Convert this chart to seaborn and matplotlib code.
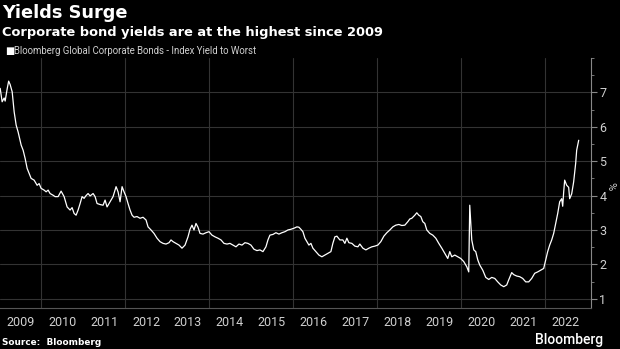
import numpy as np
import pandas as pd
import matplotlib
matplotlib.use("Agg")
import matplotlib.pyplot as plt
import seaborn as sns
from matplotlib.ticker import MultipleLocator, FixedLocator, NullFormatter, FixedFormatter

# ---- data (decimal years, yield %) ----
dates = [
    2009.024, 2009.071, 2009.119, 2009.143, 2009.190, 2009.226, 2009.262, 2009.310, 2009.357, 2009.405,
    2009.452, 2009.524, 2009.571, 2009.619, 2009.667, 2009.714, 2009.762, 2009.833, 2009.905, 2009.952,
    2010.000, 2010.071, 2010.119, 2010.167, 2010.214, 2010.286, 2010.333, 2010.405, 2010.476, 2010.548,
    2010.619, 2010.690, 2010.738, 2010.786, 2010.833, 2010.881, 2010.929, 2010.976, 2011.024, 2011.071,
    2011.119, 2011.167, 2011.238, 2011.286, 2011.333, 2011.405, 2011.476, 2011.524, 2011.571, 2011.643,
    2011.714, 2011.786, 2011.833, 2011.881, 2011.929, 2011.976, 2012.024, 2012.071, 2012.119, 2012.167,
    2012.214, 2012.286, 2012.357, 2012.429, 2012.500, 2012.548, 2012.619, 2012.690, 2012.762, 2012.833,
    2012.905, 2012.976, 2013.048, 2013.095, 2013.143, 2013.214, 2013.286, 2013.357, 2013.429, 2013.500,
    2013.548, 2013.595, 2013.643, 2013.690, 2013.738, 2013.786, 2013.857, 2013.929, 2014.000, 2014.071,
    2014.143, 2014.214, 2014.286, 2014.357, 2014.429, 2014.500, 2014.571, 2014.643, 2014.714, 2014.786,
    2014.857, 2014.929, 2015.000, 2015.071, 2015.143, 2015.214, 2015.286, 2015.357, 2015.405, 2015.452,
    2015.524, 2015.595, 2015.667, 2015.738, 2015.810, 2015.881, 2015.952, 2016.024, 2016.095, 2016.143,
    2016.190, 2016.238, 2016.286, 2016.333, 2016.381, 2016.429, 2016.476, 2016.548, 2016.619, 2016.690,
    2016.762, 2016.833, 2016.905, 2016.952, 2017.000, 2017.048, 2017.119, 2017.190, 2017.238, 2017.286,
    2017.333, 2017.405, 2017.476, 2017.548, 2017.595, 2017.667, 2017.738, 2017.810, 2017.881, 2017.952,
    2018.024, 2018.095, 2018.167, 2018.238, 2018.310, 2018.381, 2018.452, 2018.524, 2018.595, 2018.667,
    2018.738, 2018.786, 2018.833, 2018.905, 2018.952, 2019.000, 2019.048, 2019.095, 2019.143, 2019.190,
    2019.262, 2019.333, 2019.405, 2019.476, 2019.548, 2019.619, 2019.690, 2019.738, 2019.786, 2019.857,
    2019.929, 2020.000, 2020.071, 2020.143, 2020.190, 2020.214, 2020.238, 2020.262, 2020.310, 2020.357,
    2020.405, 2020.452, 2020.524, 2020.595, 2020.667, 2020.738, 2020.810, 2020.881, 2020.952, 2021.024,
    2021.095, 2021.143, 2021.214, 2021.262, 2021.333, 2021.405, 2021.476, 2021.548, 2021.619, 2021.690,
    2021.762, 2021.833, 2021.905, 2021.976, 2022.024, 2022.071, 2022.119, 2022.167, 2022.214, 2022.262,
    2022.310, 2022.357, 2022.405, 2022.429, 2022.452, 2022.476, 2022.524, 2022.571, 2022.595, 2022.643,
    2022.690, 2022.738, 2022.762, 2022.810,
]
yields = [
    7.12, 6.73, 6.84, 6.75, 7.10, 7.33, 7.23, 7.02, 6.44, 6.05,
    5.85, 5.47, 5.32, 5.08, 4.79, 4.65, 4.50, 4.45, 4.30, 4.35,
    4.21, 4.16, 4.11, 4.16, 4.06, 4.01, 3.97, 3.97, 4.13, 3.97,
    3.67, 3.58, 3.65, 3.48, 3.43, 3.58, 3.77, 3.97, 3.92, 4.00,
    4.06, 3.99, 4.06, 3.97, 3.77, 3.74, 3.72, 3.87, 3.67, 3.82,
    3.97, 4.26, 4.11, 3.82, 4.26, 4.11, 3.97, 3.77, 3.58, 3.43,
    3.37, 3.39, 3.34, 3.37, 3.29, 3.09, 3.00, 2.90, 2.76, 2.66,
    2.61, 2.59, 2.63, 2.71, 2.66, 2.61, 2.56, 2.47, 2.56, 2.80,
    3.02, 3.14, 3.00, 3.19, 3.08, 2.90, 2.88, 2.92, 2.95, 2.85,
    2.80, 2.76, 2.71, 2.61, 2.59, 2.61, 2.56, 2.51, 2.59, 2.56,
    2.63, 2.61, 2.56, 2.44, 2.40, 2.42, 2.37, 2.51, 2.71, 2.85,
    2.87, 2.92, 2.88, 2.92, 2.95, 3.00, 3.02, 3.05, 3.09, 3.08,
    3.02, 2.95, 2.76, 2.66, 2.56, 2.61, 2.47, 2.37, 2.27, 2.22,
    2.27, 2.32, 2.37, 2.61, 2.80, 2.82, 2.71, 2.71, 2.61, 2.76,
    2.63, 2.61, 2.53, 2.51, 2.59, 2.47, 2.42, 2.47, 2.51, 2.53,
    2.56, 2.66, 2.82, 2.92, 3.00, 3.09, 3.14, 3.16, 3.13, 3.14,
    3.24, 3.32, 3.34, 3.43, 3.50, 3.43, 3.39, 3.24, 3.19, 3.00,
    2.90, 2.85, 2.76, 2.61, 2.47, 2.32, 2.17, 2.37, 2.22, 2.27,
    2.22, 2.17, 2.08, 1.93, 1.78, 3.72, 3.19, 2.71, 2.42, 2.37,
    2.13, 1.98, 1.83, 1.62, 1.56, 1.62, 1.59, 1.49, 1.40, 1.35,
    1.40, 1.55, 1.76, 1.70, 1.66, 1.64, 1.59, 1.49, 1.49, 1.59,
    1.74, 1.78, 1.83, 1.88, 2.13, 2.37, 2.56, 2.71, 2.90, 3.19,
    3.48, 3.82, 3.91, 3.69, 4.10, 4.45, 4.30, 4.24, 3.91, 4.05,
    4.40, 4.94, 5.32, 5.61,
]
years = list(range(2009, 2023))
year_labels = [str(y) for y in years]
y_ticks = [1, 2, 3, 4, 5, 6, 7]

title = "Yields Surge"
subtitle = "Corporate bond yields are at the highest since 2009"
legend_label = "Bloomberg Global Corporate Bonds - Index Yield to Worst"
source = "Source:  Bloomberg"

df = pd.DataFrame({"date": dates, "yield": yields})

# ---- style ----
sns.set_style("dark")
plt.rcParams["font.family"] = ["Roboto", "DejaVu Sans"]
BG = "#000000"
GRID = "#333333"
TXT = "#d0d0d0"
HEAD = ["DejaVu Sans"]

fig = plt.figure(figsize=(6.2, 3.49), dpi=100, facecolor=BG)
ax = fig.add_axes([0.0, 0.1175, 0.953, 0.716])
ax.set_facecolor(BG)

sns.lineplot(data=df, x="date", y="yield", ax=ax, color="white", linewidth=0.9)

ax.set_xlim(2009.02, 2023.1)
ax.set_ylim(0.73, 8.0)

# x axis: tick marks at year boundaries, labels centered in each year
ax.xaxis.set_major_locator(FixedLocator([y + 1 for y in years]))
ax.xaxis.set_major_formatter(NullFormatter())
ax.xaxis.set_minor_locator(FixedLocator([y + 0.5 for y in years]))
ax.xaxis.set_minor_formatter(FixedFormatter(year_labels))
ax.tick_params(axis="x", which="major", length=19, width=0.8, color="#555555", direction="out")
ax.tick_params(axis="x", which="minor", length=0, labelsize=9, labelcolor=TXT, pad=6)

# vertical gridlines at even years
for y in years:
    if (y + 1) % 2 == 0:
        ax.axvline(y + 1, color=GRID, linewidth=0.8, zorder=0)

# y axis on right
ax.yaxis.tick_right()
ax.yaxis.set_major_locator(FixedLocator(y_ticks))
ax.yaxis.set_minor_locator(MultipleLocator(0.5))
ax.tick_params(axis="y", which="major", length=4, width=0.8, color="#888888", labelsize=9,
               labelcolor=TXT, pad=2)
ax.tick_params(axis="y", which="minor", length=2.5, width=0.6, color="#888888")
ax.yaxis.grid(True, which="major", color=GRID, linewidth=0.8)
ax.xaxis.grid(False)
ax.set_xlabel("")
ax.set_ylabel("")

for s in ["top", "left"]:
    ax.spines[s].set_visible(False)
ax.spines["right"].set_visible(True)
ax.spines["right"].set_color("#888888")
ax.spines["right"].set_linewidth(0.8)
ax.spines["bottom"].set_visible(True)
ax.spines["bottom"].set_color("#555555")
ax.spines["bottom"].set_linewidth(0.8)

# % label
fig.text(0.985, 0.467, "%", rotation=270, color=TXT, fontsize=8, ha="center", va="center")

# titles
fig.text(0.003, 0.963, title, color="white", fontsize=12.8, fontweight="bold", ha="left", va="center",
         family=HEAD)
fig.text(0.003, 0.906, subtitle, color="white", fontsize=9.35, fontweight="bold", ha="left", va="center",
         family=HEAD)
fig.text(0.008, 0.853, "\u25A0", color="white", fontsize=7, ha="left", va="center", family=HEAD)
fig.text(0.022, 0.853, legend_label, color=TXT, fontsize=6.9, ha="left", va="center")
fig.text(0.003, 0.02, source, color="white", fontsize=6.4, fontweight="bold", ha="left", va="center",
         family=HEAD)
fig.text(0.973, 0.025, "Bloomberg", color="white", fontsize=10, fontweight="medium", ha="right",
         va="center")

fig.savefig("out.png", dpi=100, facecolor=BG)
